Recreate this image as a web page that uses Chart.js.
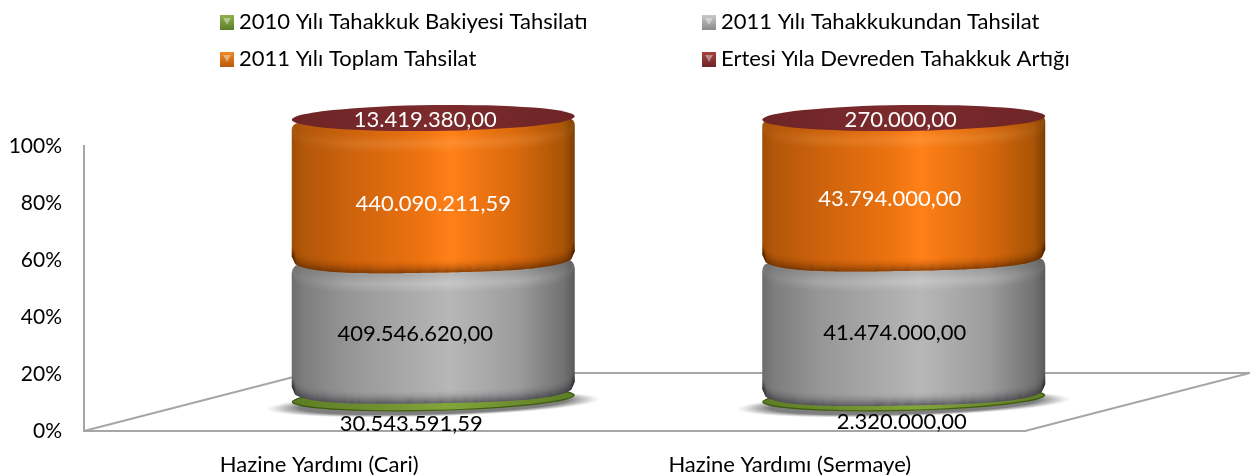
<!DOCTYPE html>
<html lang="tr">
<head>
<meta charset="utf-8">
<title>Hazine Yardımı</title>
<style>html,body{margin:0;padding:0;background:#fff}canvas{display:block}</style>
<script src="https://cdn.jsdelivr.net/npm/chart.js@4/dist/chart.umd.min.js"></script>
</head>
<body>
<canvas id="c" width="1250" height="475"></canvas>
<script>
const categories = ['Hazine Yardımı (Cari)', 'Hazine Yardımı (Sermaye)'];
const seriesNames = ['2010 Yılı Tahakkuk Bakiyesi Tahsilatı', '2011 Yılı Tahakkukundan Tahsilat', '2011 Yılı Toplam Tahsilat', 'Ertesi Yıla Devreden Tahakkuk Artığı'];
const tahakkuk2010 = [30543591.59, 2320000.00];
const tahsilat2011 = [409546620.00, 41474000.00];
const toplam2011 = [440090211.59, 43794000.00];
const devreden = [13419380.00, 270000.00];
const allSeries = [tahakkuk2010, tahsilat2011, toplam2011, devreden];

const FONT = 'Lato, Carlito, Calibri, sans-serif';
const FS = 22;
const DEPTH = {x: 225, y: -58};
const RY_TOP = 13;
const axisGrey = '#a6a6a6';

const palettes = [
  {stops: [[0,'#5d7d24'],[.3,'#6f9030'],[.55,'#82a63a'],[.8,'#6c8c2e'],[1,'#5d7d24']], legend: ['#8fb04a','#5d7d28'], label: '#000'},
  {stops: [[0,'#6c6c6c'],[.04,'#7d7d7d'],[.2,'#969696'],[.45,'#adadad'],[.56,'#b7b7b7'],[.8,'#9c9c9c'],[.96,'#727272'],[1,'#5a5a5a']], legend: ['#c8c8c8','#8a8a8a'], label: '#000'},
  {stops: [[0,'#a04e06'],[.04,'#b2570a'],[.2,'#cc620c'],[.45,'#ec7210'],[.56,'#ff8018'],[.8,'#d8680c'],[.96,'#a85406'],[1,'#7c3f02']], legend: ['#f08a28','#b85a0c'], label: '#fff'},
  {stops: [[0,'#6e2426'],[.5,'#7d2b2d'],[1,'#6e2426']], legend: ['#a84040','#6e2426'], label: '#fff'}
];
// Label nudges relative to each segment's centre [dx, dy], per category then series.
const labelNudge = [
  [[-22,27],[-18,7],[0,12],[-8,1]],
  [[-2,24],[-9,6],[-14,10],[-3,2]]
];

function pct(arr, i) {
  const total = allSeries.reduce((s, a) => s + a[i], 0);
  return arr[i] / total * 100;
}
function fmt(v) {
  const [a, b] = v.toFixed(2).split('.');
  return a.replace(/\B(?=(\d{3})+(?!\d))/g, '.') + ',' + b;
}
function hGrad(ctx, xl, xr, stops) {
  const g = ctx.createLinearGradient(xl, 0, xr, 0);
  stops.forEach(s => g.addColorStop(s[0], s[1]));
  return g;
}
// Rim of a rounded cylinder section: rounded corners, slight camera tilt.
const TILT = 2.5;
function rimY(t, base) {
  return base - 8 - TILT * t + 19 * Math.cbrt(Math.max(0, 1 - Math.pow(Math.abs(t), 3)));
}
function traceRim(ctx, cx, rx, base, dir) {
  for (let i = 0; i <= 80; i++) {
    const t = dir * (1 - i / 40);
    const p = [cx + rx * t, rimY(t, base)];
    if (i === 0) ctx.moveTo(p[0], p[1]); else ctx.lineTo(p[0], p[1]);
  }
}
function segmentPath(ctx, cx, rx, top, base, corner) {
  ctx.beginPath();
  ctx.moveTo(cx - rx, top + corner + TILT);
  if (corner) ctx.quadraticCurveTo(cx - rx, top + TILT, cx - rx + corner * 1.3, top + TILT - 1);
  ctx.lineTo(cx + rx - corner * 1.3, top - TILT - 1);
  if (corner) ctx.quadraticCurveTo(cx + rx, top - TILT, cx + rx, top + corner - TILT);
  ctx.lineTo(cx + rx, base - 8 - TILT);
  for (let i = 1; i <= 80; i++) {
    const t = 1 - i / 40;
    ctx.lineTo(cx + rx * t, rimY(t, base));
  }
  ctx.closePath();
}
function fade(ctx, cx, rx, rgb, a) {
  const g = ctx.createLinearGradient(cx - rx, 0, cx + rx, 0);
  g.addColorStop(0, `rgba(${rgb},${a * .15})`);
  g.addColorStop(.2, `rgba(${rgb},${a * .7})`);
  g.addColorStop(.55, `rgba(${rgb},${a})`);
  g.addColorStop(.85, `rgba(${rgb},${a * .7})`);
  g.addColorStop(1, `rgba(${rgb},${a * .15})`);
  return g;
}
function paintCylinder(ctx, chart, catIdx) {
  const metas = allSeries.map((_, s) => chart.getDatasetMeta(s).data[catIdx]);
  const first = metas[0];
  const cx = first.x, rx = first.width / 2;
  // floor shadow
  ctx.save();
  ctx.translate(cx, first.base + 2);
  ctx.rotate(-0.03);
  ctx.scale(1, 0.075);
  const sh = ctx.createRadialGradient(0, 0, 0, 0, 0, rx + 26);
  sh.addColorStop(0, 'rgba(95,95,95,.85)');
  sh.addColorStop(.8, 'rgba(105,105,105,.85)');
  sh.addColorStop(.9, 'rgba(140,140,140,.5)');
  sh.addColorStop(1, 'rgba(180,180,180,0)');
  ctx.fillStyle = sh;
  ctx.beginPath();
  ctx.arc(0, 0, rx + 26, 0, Math.PI * 2);
  ctx.fill();
  ctx.restore();

  metas.forEach((bar, s) => {
    const p = palettes[s];
    const xl = cx - rx, xr = cx + rx;
    const top = bar.y, base = bar.base;
    if (s === 0) {
      // thin green disc under the stack
      ctx.fillStyle = hGrad(ctx, xl, xr, p.stops);
      ctx.beginPath();
      ctx.ellipse(cx, base - 3.5, rx, 12.5, -0.024, 0, Math.PI * 2);
      ctx.fill();
      ctx.save();
      ctx.clip();
      ctx.strokeStyle = 'rgba(45,70,10,.7)';
      ctx.lineWidth = 2.5;
      ctx.beginPath();
      ctx.ellipse(cx, base - 3.5, rx, 12.5, -0.024, 0, Math.PI * 2);
      ctx.stroke();
      ctx.restore();
      return;
    }
    if (s === 3) return;
    ctx.save();
    segmentPath(ctx, cx, rx, top, base, s === 1 ? 9 : 6);
    ctx.fillStyle = hGrad(ctx, xl, xr, p.stops);
    ctx.fill();
    ctx.clip();
    const rgbLight = s === 1 ? '255,255,255' : '255,190,120';
    const rgbDark = s === 1 ? '45,45,55' : '80,35,0';
    for (let d = 3; d < 22; d++) {
      const a = 0.16 * Math.max(0, 1 - Math.abs(d - 11) / 9);
      ctx.strokeStyle = fade(ctx, cx, rx, rgbLight, a);
      ctx.lineWidth = 1.5;
      ctx.beginPath();
      traceRim(ctx, cx, rx, top + d, 1);
      ctx.stroke();
    }
    for (let d = 0; d < 14; d++) {
      const a = 0.5 * Math.pow(1 - d / 14, 2);
      ctx.strokeStyle = `rgba(${rgbDark},${a})`;
      ctx.lineWidth = 1.6;
      ctx.beginPath();
      traceRim(ctx, cx, rx, base - d + 0.5, 1);
      ctx.stroke();
    }
    ctx.restore();
  });
  // top cap
  const last = metas[metas.length - 1];
  ctx.fillStyle = hGrad(ctx, cx - rx, cx + rx, palettes[3].stops);
  ctx.beginPath();
  ctx.ellipse(cx, last.y + 1, rx, RY_TOP, -0.012, 0, Math.PI * 2);
  ctx.fill();
}

const cylinderPlugin = {
  id: 'cylinder',
  // The library's flat rectangles would peek out at the rounded corners, so each
  // bar element is painted as a cylinder section from its own scale-derived geometry.
  beforeDatasetDraw() { return false; },
  beforeDatasetsDraw(chart) {
    const {ctx, chartArea: a} = chart;
    ctx.save();
    ctx.strokeStyle = axisGrey;
    ctx.lineWidth = 2;
    ctx.lineJoin = 'miter';
    ctx.beginPath();
    ctx.moveTo(a.left, a.bottom);
    ctx.lineTo(a.left + DEPTH.x, a.bottom + DEPTH.y);
    ctx.lineTo(a.right + DEPTH.x, a.bottom + DEPTH.y);
    ctx.lineTo(a.right, a.bottom);
    ctx.stroke();
    ctx.restore();
    ctx.save();
    ctx.translate(DEPTH.x / 2 + 1.5, DEPTH.y / 2);
  },
  afterDatasetsDraw(chart) {
    const {ctx} = chart;
    categories.forEach((_, i) => paintCylinder(ctx, chart, i));
    const tx = DEPTH.x / 2 + 1.5, ty = DEPTH.y / 2;
    ctx.restore();
    ctx.save();
    ctx.font = `${FS}px ${FONT}`;
    ctx.textAlign = 'center';
    ctx.textBaseline = 'middle';
    categories.forEach((_, i) => {
      allSeries.forEach((arr, s) => {
        const bar = chart.getDatasetMeta(s).data[i];
        const n = labelNudge[i][s];
        ctx.fillStyle = palettes[s].label;
        ctx.fillText(fmt(arr[i]), bar.x + tx + n[0], (bar.y + bar.base) / 2 + ty + n[1]);
      });
    });
    ctx.restore();
  },
  afterDraw(chart) {
    const {ctx} = chart;
    const slots = [[220, 22], [702, 22], [220, 59], [702, 59]];
    ctx.save();
    ctx.font = `${FS}px ${FONT}`;
    ctx.textBaseline = 'middle';
    ctx.textAlign = 'left';
    seriesNames.forEach((name, s) => {
      const [x, y] = slots[s];
      const g = ctx.createLinearGradient(0, y - 7, 0, y + 8);
      g.addColorStop(0, palettes[s].legend[0]);
      g.addColorStop(1, palettes[s].legend[1]);
      ctx.fillStyle = g;
      ctx.fillRect(x, y - 7, 14, 15);
      ctx.beginPath();
      ctx.moveTo(x + 3, y - 4);
      ctx.lineTo(x + 11, y - 4);
      ctx.lineTo(x + 7, y + 3);
      ctx.closePath();
      ctx.globalAlpha = .4;
      ctx.fillStyle = '#fff';
      ctx.fill();
      ctx.globalAlpha = 1;
      ctx.fillStyle = '#000';
      ctx.fillText(name, x + 19, y);
    });
    ctx.restore();
  }
};

new Chart(document.getElementById('c'), {
  type: 'bar',
  plugins: [cylinderPlugin],
  data: {
    labels: categories,
    datasets: allSeries.map((arr, s) => ({
      label: seriesNames[s],
      data: arr.map((_, i) => pct(arr, i)),
      backgroundColor: palettes[s].stops[2][1],
      borderWidth: 0,
      clip: false,
      stack: 'a',
      barPercentage: 0.6015,
      categoryPercentage: 1
    }))
  },
  options: {
    responsive: false,
    animation: false,
    layout: {padding: {top: 146, right: 225, bottom: 0, left: 0}},
    plugins: {legend: {display: false}, tooltip: {enabled: false}},
    scales: {
      x: {
        stacked: true,
        grid: {display: false, drawTicks: false},
        border: {display: true, color: axisGrey, width: 2},
        ticks: {color: '#000', font: {family: FONT, size: FS}, padding: 21, maxRotation: 0},
        afterFit(scale) { scale.height = 44; }
      },
      y: {
        stacked: true,
        min: 0,
        max: 100,
        grid: {display: false, drawTicks: false},
        border: {display: true, color: axisGrey, width: 2},
        ticks: {color: '#000', font: {family: FONT, size: FS - 1}, padding: 22, stepSize: 20, callback: v => v + '%'},
        afterFit(scale) { scale.width = 84; }
      }
    }
  }
});
</script>
</body>
</html>
